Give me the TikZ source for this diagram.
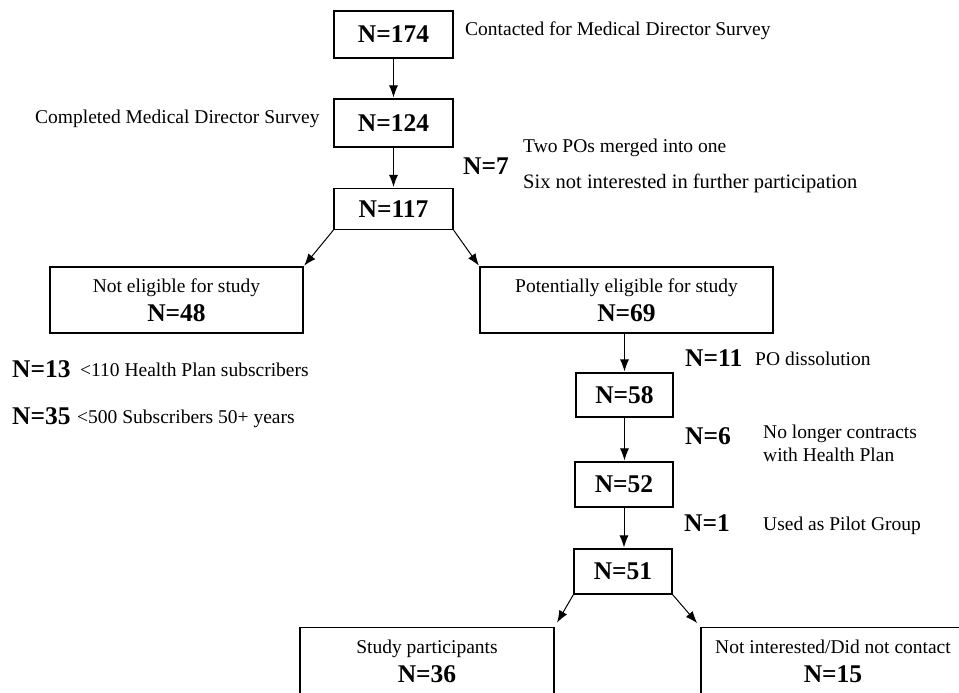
\documentclass[tikz,border=0pt]{standalone}
\usepackage{fontspec}
\setmainfont{Liberation Serif}
\usetikzlibrary{arrows.meta}
\newcommand\txtfont{\fontsize{19.5}{23}\selectfont}
\newcommand\Nfont{\fontsize{25.5}{29}\selectfont\bfseries}

\begin{document}
\begin{tikzpicture}[x=1pt, y=-1pt,
    nbox/.style={draw, line width=1.1pt, inner sep=0pt, minimum width=#1, font=\Nfont},
    gbox/.style={draw, line width=1.1pt, inner sep=0pt, minimum width=#1, minimum height=66pt,
        align=center, font=\fontsize{19.5}{29}\selectfont},
    note/.style={inner sep=0pt, anchor=base west, font=\txtfont},
    count/.style={inner sep=0pt, anchor=base west, font=\Nfont},
    arr/.style={-{Latex[length=12pt, width=9pt]}, line width=1pt, shorten >=1pt}
]
    \useasboundingbox (0,0) rectangle (959,693);

    % Main flow
    \node[nbox=119, minimum height=47] (n174) at (393.5,34.5) {N=174};
    \node[nbox=119, minimum height=48] (n124) at (393.5,123) {N=124};
    \node[nbox=119, minimum height=41] (n117) at (393.5,209) {N=117};

    % Split after survey
    \node[gbox=253] (notelig) at (176.5,300) {Not eligible for study\\{\Nfont N=48}};
    \node[gbox=293] (potelig) at (626.5,300) {Potentially eligible for study\\{\Nfont N=69}};

    % Eligible branch
    \node[nbox=97, minimum height=44] (n58) at (624.5,395) {N=58};
    \node[nbox=98, minimum height=45] (n52) at (624,484.5) {N=52};
    \node[nbox=98, minimum height=45] (n51) at (623,571.5) {N=51};

    % Final split
    \node[gbox=254, minimum height=68] (study) at (427,661.5) {Study participants\\{\Nfont N=36}};
    \node[gbox=264, minimum height=68] (notint) at (833,661.5) {Not interested/Did not contact\\{\Nfont N=15}};

    % Side notes
    \node[note] (contacted) at (465,36) {Contacted for Medical Director Survey};
    \node[note] (completed) at (35,123) {Completed Medical Director Survey};
    \node[count] (c7) at (463,174) {N=7};
    \node[note] (merged) at (523,152) {Two POs merged into one};
    \node[note, font=\fontsize{20.5}{23}\selectfont] (sixnot) at (523,188) {Six not interested in further participation};
    \node[count] (c13) at (12,377) {N=13};
    \node[note] (lt110) at (80,376) {<110 Health Plan subscribers};
    \node[count] (c35) at (12,424) {N=35};
    \node[note] (lt500) at (77,423) {<500 Subscribers 50+ years};
    \node[count] (c11) at (685,366) {N=11};
    \node[note] (dissol) at (755,365) {PO dissolution};
    \node[count] (c6) at (685,444) {N=6};
    \node[inner sep=0pt, anchor=north west, align=left, font=\txtfont] (nolonger) at (763,424.5)
        {No longer contracts\\with Health Plan};
    \node[count] (c1) at (684,531) {N=1};
    \node[note] (pilot) at (763,530) {Used as Pilot Group};

    % Arrows
    \draw[arr] (n174) -- (n124);
    \draw[arr] (n124) -- (n117);
    \draw[arr] (n117.south west) -- (notelig.north east);
    \draw[arr] (n117.south east) -- (potelig.north west);
    \draw[arr] (potelig.south -| n58) -- (n58);
    \draw[arr] (n58) -- (n52.north -| n58);
    \draw[arr] (n52) -- (n51.north -| n52);
    \draw[arr, shorten >=5pt] (n51.south west) -- (study.north east);
    \draw[arr, shorten >=5pt] (n51.south east) -- (notint.north west);

\end{tikzpicture}
\end{document}
